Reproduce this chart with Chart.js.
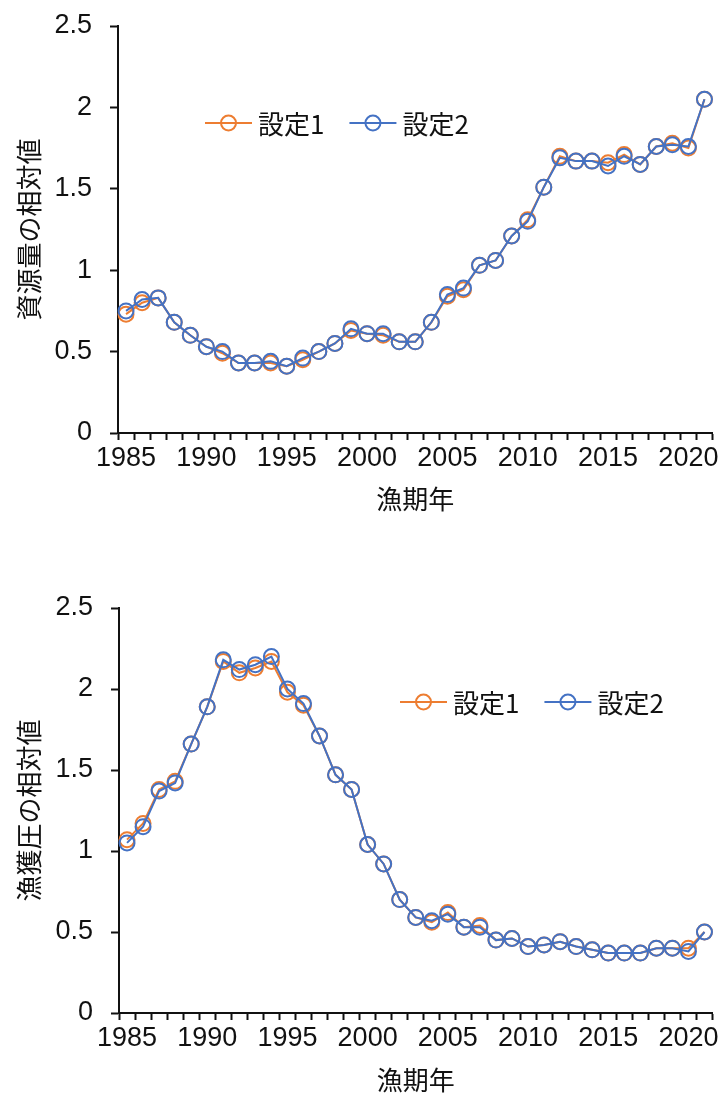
<!DOCTYPE html>
<html>
<head>
<meta charset="utf-8">
<script src="https://cdn.jsdelivr.net/npm/chart.js@4.4.1/dist/chart.umd.min.js"></script>
<style>
  html, body { margin: 0; padding: 0; background: #fff; }
  #wrap { position: relative; width: 722px; height: 1093px; overflow: hidden; }
  canvas { position: absolute; left: 0; }
  #stockChart { top: 0; }
  #pressureChart { top: 546px; }
</style>
</head>
<body>
<div id="wrap">
  <canvas id="stockChart" width="722" height="546"></canvas>
  <canvas id="pressureChart" width="722" height="547"></canvas>
</div>
<script>
// Fishing years on the category axis
const years = [1985, 1986, 1987, 1988, 1989, 1990, 1991, 1992, 1993, 1994,
               1995, 1996, 1997, 1998, 1999, 2000, 2001, 2002, 2003, 2004,
               2005, 2006, 2007, 2008, 2009, 2010, 2011, 2012, 2013, 2014,
               2015, 2016, 2017, 2018, 2019, 2020, 2021];
const labeledYears = [1985, 1990, 1995, 2000, 2005, 2010, 2015, 2020];
const yTicks = [0, 0.5, 1, 1.5, 2, 2.5];

const seriesNames = ['設定1', '設定2'];

// Relative stock size
const stockSetting1 = [0.73, 0.80, 0.83, 0.68, 0.60, 0.53, 0.49, 0.43, 0.43, 0.43,
                       0.41, 0.45, 0.50, 0.55, 0.63, 0.61, 0.60, 0.56, 0.56, 0.68,
                       0.84, 0.88, 1.03, 1.06, 1.21, 1.31, 1.51, 1.70, 1.67, 1.67,
                       1.66, 1.71, 1.65, 1.76, 1.78, 1.75, 2.05];
const stockSetting2 = [0.75, 0.82, 0.83, 0.68, 0.60, 0.53, 0.50, 0.43, 0.43, 0.44,
                       0.41, 0.46, 0.50, 0.55, 0.64, 0.61, 0.61, 0.56, 0.56, 0.68,
                       0.85, 0.89, 1.03, 1.06, 1.21, 1.30, 1.51, 1.69, 1.67, 1.67,
                       1.64, 1.70, 1.65, 1.76, 1.77, 1.76, 2.05];

// Relative fishing pressure
const pressureSetting1 = [1.07, 1.17, 1.38, 1.43, 1.66, 1.89, 2.17, 2.10, 2.13, 2.17,
                          1.98, 1.90, 1.71, 1.47, 1.38, 1.04, 0.92, 0.70, 0.59, 0.56,
                          0.62, 0.53, 0.54, 0.45, 0.46, 0.41, 0.42, 0.44, 0.41, 0.39,
                          0.37, 0.37, 0.37, 0.40, 0.40, 0.40, 0.50];
const pressureSetting2 = [1.05, 1.15, 1.37, 1.42, 1.66, 1.89, 2.18, 2.12, 2.15, 2.20,
                          2.00, 1.91, 1.71, 1.47, 1.38, 1.04, 0.92, 0.70, 0.59, 0.57,
                          0.61, 0.53, 0.53, 0.45, 0.46, 0.41, 0.42, 0.44, 0.41, 0.39,
                          0.37, 0.37, 0.37, 0.40, 0.40, 0.38, 0.50];

const ORANGE = '#ED7D31';
const BLUE = '#4472C4';
const NUM_FONT = '"Liberation Sans", Arial, sans-serif';
const JP_FONT = '"Noto Sans CJK JP", "Noto Sans CJK SC", sans-serif';

// Legend drawn inside the plot area: line + hollow circle + label
const inlineLegend = {
  id: 'inlineLegend',
  afterDraw(chart, args, opts) {
    const ctx = chart.ctx;
    let x = opts.x;
    const y = opts.y;
    ctx.save();
    ctx.font = '26px ' + JP_FONT;
    ctx.textBaseline = 'middle';
    ctx.textAlign = 'left';
    chart.data.datasets.forEach(ds => {
      ctx.strokeStyle = ds.borderColor;
      ctx.lineWidth = 2;
      ctx.beginPath();
      ctx.moveTo(x, y);
      ctx.lineTo(x + 47, y);
      ctx.stroke();
      ctx.beginPath();
      ctx.arc(x + 23.5, y, 7.5, 0, Math.PI * 2);
      ctx.stroke();
      ctx.fillStyle = '#111';
      ctx.fillText(ds.label, x + 53, y + 1);
      x += 53 + ctx.measureText(ds.label).width + 25;
    });
    ctx.restore();
  }
};

function makeChart(id, yTitle, s1, s2, geo) {
  const mkDs = (label, data, color, order) => ({
    label, data, order,
    borderColor: color,
    backgroundColor: 'rgba(0,0,0,0)',
    borderWidth: 2,
    pointRadius: 7.5,
    pointBorderWidth: 2,
    pointBackgroundColor: 'rgba(0,0,0,0)',
    pointBorderColor: color,
    tension: 0,
    fill: false
  });
  return new Chart(document.getElementById(id), {
    type: 'line',
    data: {
      labels: years,
      datasets: [
        mkDs(seriesNames[0], s1, ORANGE, 1),
        mkDs(seriesNames[1], s2, BLUE, 0)
      ]
    },
    plugins: [inlineLegend],
    options: {
      responsive: false,
      animation: false,
      devicePixelRatio: 1,
      layout: { padding: { top: geo.top, right: geo.right, left: 0, bottom: 0 } },
      plugins: {
        legend: { display: false },
        tooltip: { enabled: false },
        inlineLegend: { x: geo.legendX, y: geo.legendY }
      },
      scales: {
        x: {
          type: 'category',
          offset: true,
          grid: {
            offset: true,
            drawOnChartArea: false,
            drawTicks: true,
            tickLength: 7,
            tickWidth: 2,
            tickColor: '#111'
          },
          border: { display: true, color: '#111', width: 2 },
          ticks: {
            autoSkip: false,
            maxRotation: 0,
            minRotation: 0,
            padding: 2,
            color: '#111',
            font: { family: NUM_FONT, size: 27 },
            callback(value) {
              const yr = this.getLabelForValue(value);
              return labeledYears.includes(Number(yr)) ? String(yr) : '';
            }
          },
          title: {
            display: true,
            text: '漁期年',
            color: '#111',
            font: { family: JP_FONT, size: 26, lineHeight: 1 },
            padding: { top: 0, bottom: geo.xTitlePad }
          },
          afterFit(scale) {
            scale.height = geo.xHeight;
            scale.paddingLeft = 0;
            scale.paddingRight = 0;
          }
        },
        y: {
          min: 0,
          max: 2.5,
          afterBuildTicks(scale) { scale.ticks = yTicks.map(v => ({ value: v })); },
          grid: {
            drawOnChartArea: false,
            drawTicks: true,
            tickLength: 8,
            tickWidth: 2,
            tickColor: '#111'
          },
          border: { display: true, color: '#111', width: 2 },
          ticks: {
            padding: 18,
            color: '#111',
            font: { family: NUM_FONT, size: 27 },
            callback(value) { return String(value); }
          },
          title: {
            display: true,
            text: yTitle,
            color: '#111',
            font: { family: JP_FONT, size: 26, lineHeight: 1 },
            padding: { top: 16, bottom: 0 }
          },
          afterFit(scale) {
            scale.width = geo.yWidth;
            scale.paddingTop = 0;
            scale.paddingBottom = 0;
          }
        }
      }
    }
  });
}

makeChart('stockChart', '資源量の相対値', stockSetting1, stockSetting2, {
  top: 26, right: 7, yWidth: 118, xHeight: 113, xTitlePad: 34,
  legendX: 205, legendY: 123
});

makeChart('pressureChart', '漁獲圧の相対値', pressureSetting1, pressureSetting2, {
  top: 62, right: 8, yWidth: 119, xHeight: 80, xTitlePad: 0,
  legendX: 400, legendY: 156
});
</script>
</body>
</html>
